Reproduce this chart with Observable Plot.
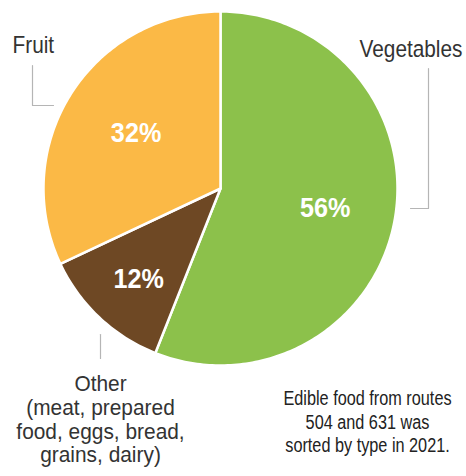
<!DOCTYPE html>
<html>
<head>
<meta charset="utf-8">
<script src="https://cdn.jsdelivr.net/npm/d3@7"></script>
<script src="https://cdn.jsdelivr.net/npm/@observablehq/plot@0.6"></script>
<style>
  html, body { margin: 0; padding: 0; background: #fff; }
  #chart svg { display: block; }
</style>
</head>
<body>
<div id="chart"></div>
<script>
// ---- data ----
const categories = ["Vegetables", "Other", "Fruit"];
const shares = [56, 12, 32];
const shareLabels = ["56%", "12%", "32%"];

const otherLines = ["Other", "(meat, prepared", "food, eggs, bread,", "grains, dairy)"];
const captionLines = ["Edible food from routes", "504 and 631 was", "sorted by type in 2021."];

// ---- layout ----
const W = 466, H = 476;
const cx = 220, cy = 188, R = 177;
const FONT = "'Liberation Sans', Arial, sans-serif";

const rows = categories.map((c, i) => ({category: c, share: shares[i], label: shareLabels[i]}));
const arcs = d3.pie().sort(null).value(d => d.share).startAngle(0).endAngle(2 * Math.PI)(rows);

// polygon vertices for each slice, derived from the pie angles
const pts = [];
for (const a of arcs) {
  const c = a.data.category;
  pts.push({category: c, x: cx, y: cy});
  const n = Math.max(8, Math.ceil((a.endAngle - a.startAngle) / (Math.PI / 180)));
  for (let k = 0; k <= n; k++) {
    const t = a.startAngle + (a.endAngle - a.startAngle) * k / n;
    pts.push({category: c, x: cx + R * Math.sin(t), y: cy - R * Math.cos(t)});
  }
}

const labelR = c => (c === "Other" ? 0.70 : 0.585);
const labelPos = arcs.map(a => {
  const m = (a.startAngle + a.endAngle) / 2;
  const r = R * labelR(a.data.category);
  return {label: a.data.label, x: cx + r * Math.sin(m), y: cy - r * Math.cos(m)};
});

const gray = "#b5b5b5";
const textColor = "#333";

const chart = Plot.plot({
  width: W,
  height: H,
  margin: 0,
  x: {domain: [0, W], range: [0, W], axis: null},
  y: {domain: [0, H], range: [0, H], axis: null},
  color: {domain: categories, range: ["#8cc14b", "#6e4824", "#fbb946"]},
  style: {fontFamily: FONT, background: "#fff"},
  marks: [
    Plot.line(pts, {x: "x", y: "y", z: "category", fill: "category", stroke: "white", strokeWidth: 2.5, strokeLinejoin: "round", curve: "linear-closed"}),
    Plot.text(labelPos, {x: "x", y: "y", text: "label", fill: "white", fontWeight: "bold", fontSize: 28, textAnchor: "middle", lineAnchor: "middle", dx: 3}),
    // leader lines
    Plot.line([{x: 32, y: 65}, {x: 32, y: 105}, {x: 53, y: 105}], {x: "x", y: "y", stroke: gray, strokeWidth: 1.2}),
    Plot.line([{x: 428, y: 68}, {x: 428, y: 208}, {x: 410, y: 208}], {x: "x", y: "y", stroke: gray, strokeWidth: 1.2}),
    Plot.line([{x: 100, y: 334}, {x: 100, y: 358}], {x: "x", y: "y", stroke: gray, strokeWidth: 1.2}),
    // category labels
    Plot.text(["Fruit"], {x: 12, y: 35, text: d => d, textAnchor: "start", lineAnchor: "top", fontSize: 24.5, fill: textColor}),
    Plot.text(["Vegetables"], {x: 359, y: 39, text: d => d, textAnchor: "start", lineAnchor: "top", fontSize: 24.5, fill: textColor}),
    Plot.text([otherLines.join("\n")], {x: 100, y: 374, text: d => d, textAnchor: "middle", lineAnchor: "top", fontSize: 22, lineHeight: 1.075, fill: textColor}),
    Plot.text([captionLines.join("\n")], {x: 367, y: 388, text: d => d, textAnchor: "middle", lineAnchor: "top", fontSize: 21, lineHeight: 1.12, fill: "#222"})
  ]
});

// condensed type: narrow each text mark horizontally about its anchor
const squeeze = [0.9, 0.85, 0.85, 0.95, 0.775];
d3.select(chart).selectAll('g[aria-label="text"]').each(function(_, i) {
  const s = squeeze[i] ?? 1;
  d3.select(this).selectAll("text").attr("transform", function() {
    return (this.getAttribute("transform") || "") + ` scale(${s},1)`;
  });
});

document.getElementById("chart").appendChild(chart);
</script>
</body>
</html>
